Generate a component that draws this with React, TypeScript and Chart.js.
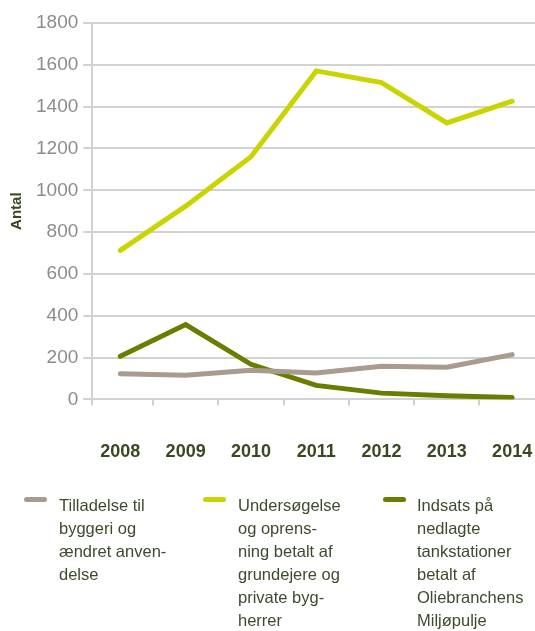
import React, { useEffect, useRef } from 'react';
import { Chart, registerables } from 'chart.js';

Chart.register(...registerables);

const years = [2008, 2009, 2010, 2011, 2012, 2013, 2014];
const tilladelse = [123, 115, 139, 126, 158, 154, 214];
const undersoegelse = [713, 924, 1160, 1571, 1515, 1322, 1426];
const indsats = [206, 358, 168, 67, 30, 18, 9];
const yTickValues = [0, 200, 400, 600, 800, 1000, 1200, 1400, 1600, 1800];
const seriesNames = [
  'Tilladelse til byggeri og ændret anvendelse',
  'Undersøgelse og oprensning betalt af grundejere og private bygherrer',
  'Indsats på nedlagte tankstationer betalt af Oliebranchens Miljøpulje',
];
const legendLines = [
  ['Tilladelse til', 'byggeri og', 'ændret anven-', 'delse'],
  ['Undersøgelse', 'og oprens-', 'ning betalt af', 'grundejere og', 'private byg-', 'herrer'],
  ['Indsats på', 'nedlagte', 'tankstationer', 'betalt af', 'Oliebranchens', 'Miljøpulje'],
];
const yTitle = 'Antal';

const colors = ['#a99b8e', '#c9d400', '#6b7c00'];
const gridColor = '#d2d2d2';
const textGreen = '#3a4822';

const X_MIN = 2007.57;
const X_MAX = 2014.35;

export default function App() {
  const ref = useRef<HTMLCanvasElement | null>(null);

  useEffect(() => {
    if (!ref.current) return;
    const seriesValues = [tilladelse, undersoegelse, indsats];
    const chart = new Chart(ref.current, {
      type: 'line',
      data: {
        datasets: seriesValues.map((vals, i) => ({
          label: seriesNames[i],
          data: years.map((yr, j) => ({ x: yr, y: vals[j] })),
          borderColor: colors[i],
          backgroundColor: colors[i],
          borderWidth: 5,
          pointRadius: 0,
          tension: 0,
          borderCapStyle: 'round',
          borderJoinStyle: 'miter',
          fill: false,
        })),
      },
      options: {
        animation: false,
        responsive: false,
        devicePixelRatio: 1,
        layout: { padding: { top: 23, right: 0, bottom: 8, left: 4 } },
        plugins: {
          legend: { display: false },
          tooltip: { enabled: false },
        },
        scales: {
          x: {
            type: 'linear',
            min: X_MIN,
            max: X_MAX,
            afterBuildTicks: (scale: any) => {
              const t: any[] = [{ value: X_MIN }];
              years.forEach((yr, i) => {
                t.push({ value: yr });
                if (i < years.length - 1) t.push({ value: yr + 0.5 });
              });
              scale.ticks = t;
            },
            afterFit: (scale: any) => {
              scale.paddingRight = 0;
              scale.paddingLeft = 0;
            },
            ticks: {
              autoSkip: false,
              maxRotation: 0,
              padding: 36,
              color: textGreen,
              font: { family: 'Liberation Sans', size: 18, weight: 'bold' },
              callback: (v: any) => (Number.isInteger(v) ? String(v) : ''),
            },
            grid: {
              drawOnChartArea: false,
              drawTicks: true,
              tickLength: 6,
              lineWidth: 2,
              tickColor: (ctx: any) =>
                ctx.tick && Number.isInteger(ctx.tick.value) ? 'rgba(0,0,0,0)' : gridColor,
            },
            border: { display: true, color: gridColor, width: 2 },
          },
          y: {
            min: 0,
            max: 1800,
            afterBuildTicks: (scale: any) => {
              scale.ticks = yTickValues.map((v) => ({ value: v }));
            },
            ticks: {
              padding: 5,
              color: '#8c8c8c',
              font: { family: 'Liberation Sans', size: 19 },
              callback: (v: any) => String(v),
            },
            grid: {
              color: gridColor,
              lineWidth: 2,
              tickLength: 9,
              tickColor: gridColor,
            },
            border: { display: true, color: gridColor, width: 2 },
            title: {
              display: true,
              text: yTitle,
              color: textGreen,
              font: { family: 'Liberation Sans', size: 15, weight: 'bold' },
              padding: { top: 4, bottom: 5 },
            },
          },
        },
      },
    } as any);
    return () => chart.destroy();
  }, []);

  const swatchX = [24, 203, 383];
  const textX = [59, 238, 417];

  return (
    <div style={{ position: 'absolute', left: 0, top: 0, width: 535, height: 631, overflow: 'hidden', background: '#fff' }}>
      <canvas ref={ref} width={535} height={507} style={{ position: 'absolute', left: 0, top: 0, width: 535, height: 507 }} />
      {legendLines.map((lines, i) => (
        <React.Fragment key={i}>
          <div
            style={{
              position: 'absolute',
              left: swatchX[i],
              top: 497,
              width: 23,
              height: 5,
              borderRadius: 3,
              background: colors[i],
            }}
          />
          <div
            style={{
              position: 'absolute',
              left: textX[i],
              top: 493.5,
              fontFamily: 'Liberation Sans',
              fontSize: 16.5,
              lineHeight: '23px',
              color: '#3d4a2c',
              whiteSpace: 'nowrap',
            }}
          >
            {lines.map((l, k) => (
              <div key={k}>{l}</div>
            ))}
          </div>
        </React.Fragment>
      ))}
    </div>
  );
}
